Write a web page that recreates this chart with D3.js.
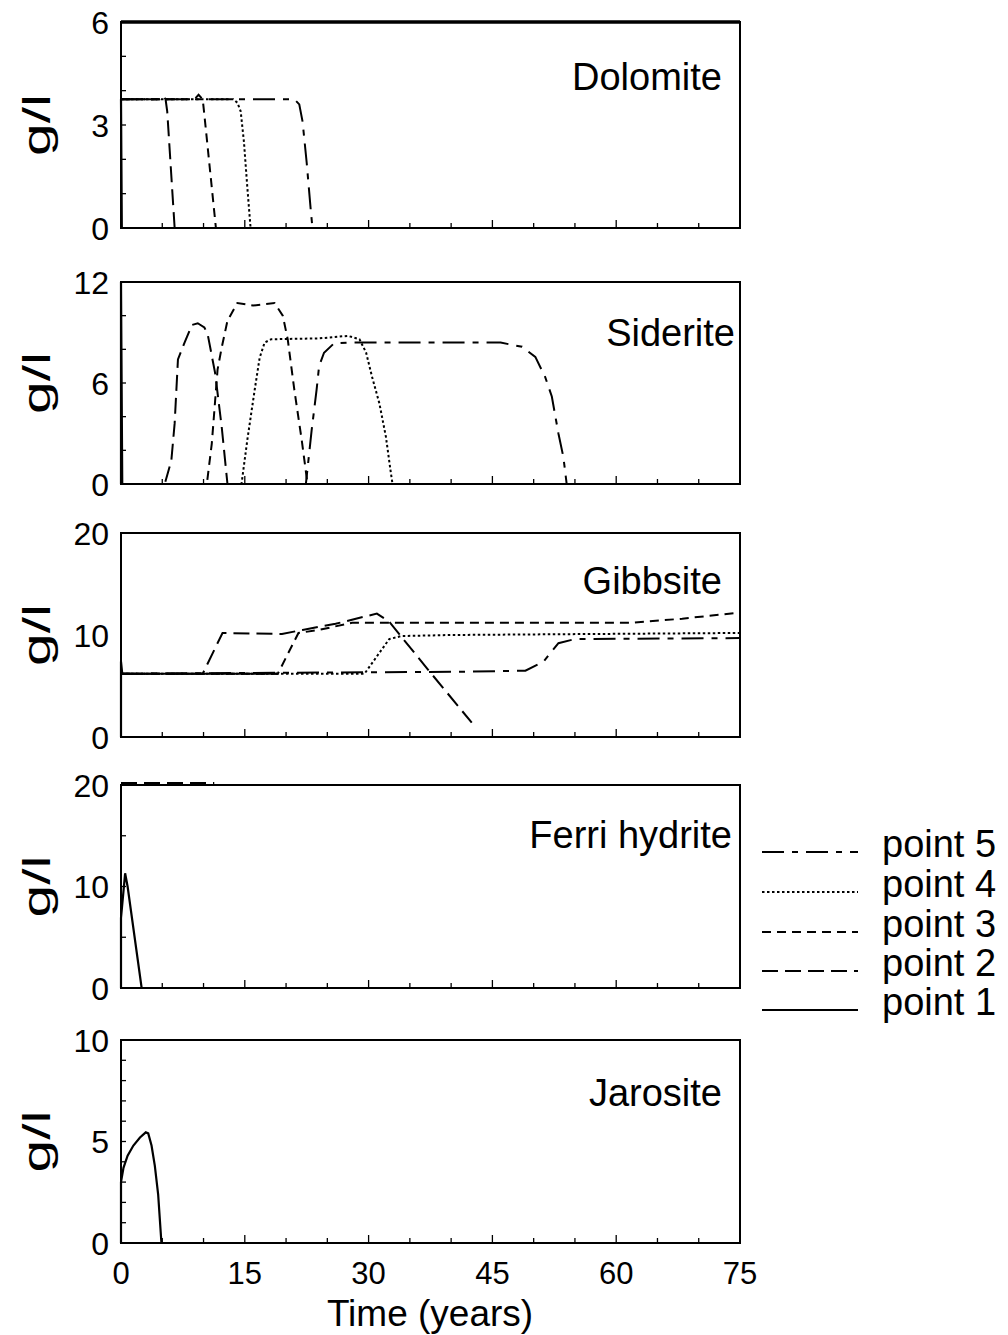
<!DOCTYPE html>
<html>
<head>
<meta charset="utf-8">
<script src="https://cdn.jsdelivr.net/npm/d3@7"></script>
<style>
  body { margin: 0; background: #fff; }
  text { font-family: "Liberation Sans", Arial, sans-serif; fill: #000; }
</style>
</head>
<body>
<script>
// ---- data (time in years, concentration in g/l) ----
const minerals = ["Dolomite", "Siderite", "Gibbsite", "Ferri hydrite", "Jarosite"];
const yMax = [6, 12, 20, 20, 10];
const yTickLabels = [[0, 3, 6], [0, 6, 12], [0, 10, 20], [0, 10, 20], [0, 5, 10]];
const yMinorStep = [1, 2, 0, 5, 1];
const timeTicks = [0, 15, 30, 45, 60, 75];
const legendNames = ["point 5", "point 4", "point 3", "point 2", "point 1"];

const dolomiteP1 = [[0, 3.75], [0.1, 0], [75, 0]];
const dolomiteP2 = [[0, 3.75], [4.7, 3.75], [5.1, 3.85], [5.4, 3.75], [5.6, 3.4], [6.5, 0], [75, 0]];
const dolomiteP3 = [[0, 3.75], [8.9, 3.75], [9.4, 3.88], [9.9, 3.75], [10.1, 3.3], [11.5, 0], [75, 0]];
const dolomiteP4 = [[0, 3.75], [13.6, 3.75], [14.1, 3.65], [14.5, 3.4], [14.9, 2.5], [15.3, 1.2], [15.7, 0], [75, 0]];
const dolomiteP5 = [[0, 3.75], [21, 3.75], [21.6, 3.6], [22, 3.1], [22.5, 1.9], [23, 0.5], [23.2, 0], [75, 0]];

const sideriteP1 = [[0, 0], [0, 12], [0.15, 0], [75, 0]];
const sideriteP2 = [[0, 0], [5.3, 0], [6.1, 1.4], [6.5, 3.6], [6.9, 7.4], [7.7, 8.4], [8.6, 9.45], [9.3, 9.55], [10.1, 9.3], [10.5, 8.9], [11.4, 6.6], [12.2, 3.4], [12.9, 0], [75, 0]];
const sideriteP3 = [[0, 0], [10.4, 0], [11, 2.4], [11.7, 6.8], [12.2, 8.1], [12.9, 9.7], [14.1, 10.75], [16, 10.6], [18.6, 10.75], [19.6, 10], [20.2, 8.6], [21, 5.6], [21.9, 2.6], [22.6, 0], [75, 0]];
const sideriteP4 = [[0, 0], [14.6, 0], [15.3, 2.6], [16.2, 5.6], [16.8, 7.5], [17.4, 8.4], [18.2, 8.6], [24, 8.65], [27.5, 8.8], [28.9, 8.6], [29.7, 7.8], [30.4, 6.4], [31.3, 4.8], [32.1, 2.8], [32.7, 0.65], [32.9, 0], [75, 0]];
const sideriteP5 = [[0, 0], [22.4, 0], [23.1, 3.2], [23.7, 5.6], [24, 7], [24.6, 7.8], [25.8, 8.35], [27.4, 8.4], [46, 8.4], [48.6, 8.15], [50.2, 7.55], [51.4, 6.35], [52.2, 5.2], [53, 3], [53.6, 1.6], [54, 0], [75, 0]];

const gibbsiteP1 = [[0, 0], [0, 7.4], [0.15, 6.2], [19, 6.2]];
const gibbsiteP2 = [[0, 6.2], [9.9, 6.2], [12.3, 10.2], [19.5, 10.1], [22, 10.5], [26, 11.1], [31, 12.1], [32.5, 11.3], [37, 6.8], [42.5, 1.4]];
const gibbsiteP3 = [[0, 6.2], [19, 6.2], [21.5, 10.2], [24, 10.5], [28, 11.2], [62, 11.2], [68, 11.6], [75, 12.2]];
const gibbsiteP4 = [[0, 6.2], [29.5, 6.2], [32.5, 9.6], [34, 9.9], [40, 10], [75, 10.2]];
const gibbsiteP5 = [[0, 6.2], [41, 6.4], [49, 6.5], [51.2, 7.4], [53, 9.2], [55, 9.6], [75, 9.7]];

const ferriP1 = [[0, 0], [0, 6.9], [0.5, 11.3], [0.8, 10], [2.5, 0], [75, 0]];
const ferriP2 = [[0, 20.2], [11.3, 20.2]];
const ferriP3 = [[0, 0], [75, 0]];
const ferriP4 = [[0, 0], [75, 0]];
const ferriP5 = [[0, 0], [75, 0]];

const jarositeP1 = [[0, 0], [0, 3.0], [0.3, 3.7], [0.8, 4.3], [1.5, 4.8], [2.3, 5.2], [3, 5.45], [3.3, 5.4], [3.7, 4.8], [4.1, 3.8], [4.5, 2.4], [4.9, 0], [75, 0]];
const jarositeP2 = [[0, 0], [75, 0]];
const jarositeP3 = [[0, 0], [75, 0]];
const jarositeP4 = [[0, 0], [75, 0]];
const jarositeP5 = [[0, 0], [75, 0]];

// series per panel, ordered point 1..5
const panelSeries = [
  [dolomiteP1, dolomiteP2, dolomiteP3, dolomiteP4, dolomiteP5],
  [sideriteP1, sideriteP2, sideriteP3, sideriteP4, sideriteP5],
  [gibbsiteP1, gibbsiteP2, gibbsiteP3, gibbsiteP4, gibbsiteP5],
  [ferriP1, ferriP2, ferriP3, ferriP4, ferriP5],
  [jarositeP1, jarositeP2, jarositeP3, jarositeP4, jarositeP5]
];

// ---- layout ----
const width = 1008, height = 1335;
const left = 121, right = 740;
const panelTop = [22, 282, 533, 785, 1040];
const panelBottom = [228, 484, 737, 988, 1243];
const titleX = [722, 735, 722, 732, 722];
const titleY = [90, 346, 594, 848, 1106];

// dash styles for point 1..5
const dashes = [null, "16,7", "9,6", "2.5,2.5", "22,8,6,8"];

const x = d3.scaleLinear().domain([0, 75]).range([left, right]);

const svg = d3.select("body").append("svg")
  .attr("width", width)
  .attr("height", height);

minerals.forEach((name, i) => {
  const top = panelTop[i], bottom = panelBottom[i];
  const y = d3.scaleLinear().domain([0, yMax[i]]).range([bottom, top]);
  const g = svg.append("g");

  // frame
  g.append("rect")
    .attr("x", left).attr("y", top)
    .attr("width", right - left).attr("height", bottom - top)
    .attr("fill", "none").attr("stroke", "#000").attr("stroke-width", 2);
  if (i === 0) {
    g.append("line").attr("x1", left).attr("x2", right)
      .attr("y1", top).attr("y2", top)
      .attr("stroke", "#000").attr("stroke-width", 3.5);
  }

  // minor x ticks (inside, every 5 years)
  g.selectAll(".xt").data(d3.range(5, 75, 5)).enter().append("line")
    .attr("x1", d => x(d)).attr("x2", d => x(d))
    .attr("y1", bottom).attr("y2", d => bottom - (d % 15 === 0 ? 8 : 5))
    .attr("stroke", "#000").attr("stroke-width", 1.3);

  // minor y ticks
  if (yMinorStep[i] > 0) {
    g.selectAll(".yt").data(d3.range(yMinorStep[i], yMax[i], yMinorStep[i])).enter().append("line")
      .attr("x1", left).attr("x2", left + 5)
      .attr("y1", d => y(d)).attr("y2", d => y(d))
      .attr("stroke", "#000").attr("stroke-width", 1.3);
  }

  // y tick labels
  g.selectAll(".yl").data(yTickLabels[i]).enter().append("text")
    .attr("x", 109).attr("y", d => y(d))
    .attr("dy", "0.36em")
    .attr("text-anchor", "end")
    .style("font-size", "32px")
    .text(d => d);

  // g/l label
  g.append("text")
    .attr("transform", `translate(50,${(top + bottom) / 2}) rotate(-90)`)
    .attr("text-anchor", "middle")
    .attr("textLength", 62)
    .attr("lengthAdjust", "spacingAndGlyphs")
    .style("font-size", "38px")
    .text("g/l");

  // panel title
  g.append("text")
    .attr("x", titleX[i]).attr("y", titleY[i])
    .attr("text-anchor", "end")
    .style("font-size", "38px")
    .text(name);

  // curves
  const line = d3.line().x(d => x(d[0])).y(d => y(d[1]));
  panelSeries[i].forEach((s, k) => {
    g.append("path")
      .attr("d", line(s))
      .attr("fill", "none")
      .attr("stroke", "#000")
      .attr("stroke-width", k === 0 ? 2.2 : 2)
      .attr("stroke-dasharray", dashes[k]);
  });
});

// x tick labels on the bottom panel
svg.selectAll(".xl").data(timeTicks).enter().append("text")
  .attr("x", d => x(d)).attr("y", 1284)
  .attr("text-anchor", "middle")
  .style("font-size", "31px")
  .text(d => d);

svg.append("text")
  .attr("x", 430).attr("y", 1326)
  .attr("text-anchor", "middle")
  .style("font-size", "37px")
  .text("Time (years)");

// legend (point 5 at top down to point 1)
const legendBase = [857, 897, 937, 976, 1015];
const legend = svg.selectAll(".lg").data(legendNames).enter().append("g");
legend.append("line")
  .attr("x1", 762).attr("x2", 858)
  .attr("y1", (d, j) => legendBase[j] - 5).attr("y2", (d, j) => legendBase[j] - 5)
  .attr("stroke", "#000")
  .attr("stroke-width", 2)
  .attr("stroke-dasharray", (d, j) => dashes[4 - j]);
legend.append("text")
  .attr("x", 882).attr("y", (d, j) => legendBase[j])
  .style("font-size", "38px")
  .text(d => d);
</script>
</body>
</html>
